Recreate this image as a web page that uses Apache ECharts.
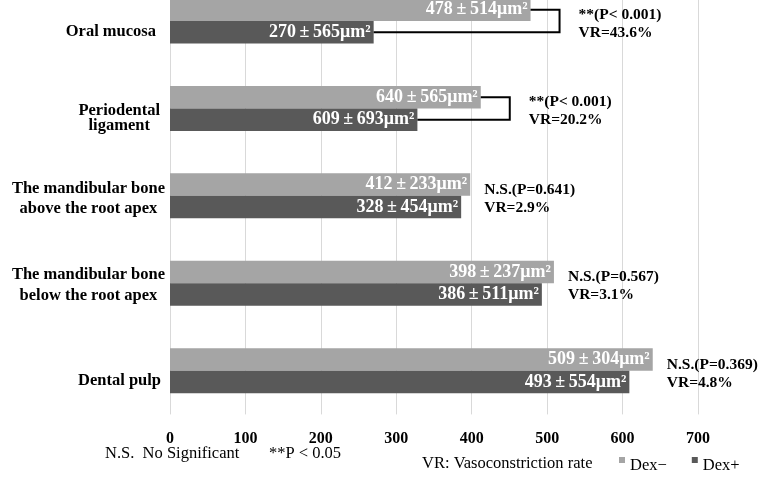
<!DOCTYPE html>
<html>
<head>
<meta charset="utf-8">
<script src="https://cdn.jsdelivr.net/npm/echarts@6/dist/echarts.min.js"></script>
<style>html,body{margin:0;padding:0;background:#fff;}#c{width:767px;height:479px;}</style>
</head>
<body>
<div id="c"></div>
<script>
const categories = ['Oral mucosa', 'Periodental\nligament', 'The mandibular bone\nabove the root apex', 'The mandibular bone\nbelow the root apex', 'Dental pulp'];
const dexMinus = [478, 412, 398, 509, 640];
const dexPlus = [270, 328, 386, 493, 609];
const labelMinus = ['478±514μm²', '640±565μm²', '412±233μm²', '398±237μm²', '509±304μm²'];
const labelPlus = ['270±565μm²', '609±693μm²', '328±454μm²', '386±511μm²', '493±554μm²'];
const pTexts = ['**(P< 0.001)', '**(P< 0.001)', 'N.S.(P=0.641)', 'N.S.(P=0.567)', 'N.S.(P=0.369)'];
const vrTexts = ['VR=43.6%', 'VR=20.2%', 'VR=2.9%', 'VR=3.1%', 'VR=4.8%'];
const bracketed = [true, true, false, false, false];
const seriesNames = ['Dex\u2212', 'Dex+'];
const noteTexts = ['N.S.  No Significant', '**P < 0.05', 'VR: Vasoconstriction rate'];

// label layout tweaks (style only)
const catShift = [22, 19, 6, 4, 20];
const catRightPad = [9, 5, 0, 0, 4];
const catLineHeight = [18, 15, 20.5, 21, 18];

const SERIF = '"Liberation Serif", "Times New Roman", serif';
const fmtLabel = s => s.replace('±', '\u2009±\u2009');

const chart = echarts.init(document.getElementById('c'));
const yData = categories.map((c, i) => ({
  value: c,
  textStyle: { padding: [catShift[i], catRightPad[i], 0, 0], lineHeight: catLineHeight[i] }
}));

const option = {
  animation: false,
  backgroundColor: '#fff',
  grid: { left: 170, right: 69, top: -22.7, bottom: 64.6, outerBoundsMode: 'none', containLabel: false },
  xAxis: {
    type: 'value', min: 0, max: 700, interval: 100,
    axisLine: { show: false }, axisTick: { show: false },
    splitLine: { lineStyle: { color: '#d9d9d9', width: 1 } },
    axisLabel: { margin: 16, color: '#000', fontFamily: SERIF, fontWeight: 'bold', fontSize: 16 }
  },
  yAxis: {
    type: 'category', inverse: true, data: yData,
    axisLine: { show: false }, axisTick: { show: false },
    axisLabel: {
      margin: 5, color: '#000',
      formatter: v => v.split('\n').map(l => '{c|' + l + '}').join('\n'),
      rich: { c: { align: 'center', fontFamily: SERIF, fontWeight: 'bold', fontSize: 16.5, color: '#000' } }
    }
  },
  legend: {
    data: seriesNames, left: 619, top: 457, padding: 0,
    itemWidth: 6, itemHeight: 6, itemGap: 25, icon: 'rect',
    formatter: n => '{t|' + n + '}',
    textStyle: {
      fontFamily: SERIF, fontSize: 16.5, color: '#000',
      rich: { t: { fontFamily: SERIF, fontSize: 16.5, color: '#000', padding: [12, 0, 0, 0] } }
    }
  },
  graphic: [
    { type: 'text', left: 105, top: 445, style: { text: noteTexts[0], font: '16.5px ' + SERIF, fill: '#000' } },
    { type: 'text', left: 269, top: 445, style: { text: noteTexts[1], font: '16.5px ' + SERIF, fill: '#000' } },
    { type: 'text', left: 422, top: 455, style: { text: noteTexts[2], font: '16.5px ' + SERIF, fill: '#000' } }
  ],
  series: [
    {
      name: seriesNames[0], type: 'bar', data: dexMinus, barWidth: 22.5, barGap: '0%',
      itemStyle: { color: '#a5a5a5' },
      label: {
        show: true, position: 'insideRight', distance: 3,
        formatter: p => fmtLabel(labelMinus[p.dataIndex]),
        color: '#fff', fontFamily: SERIF, fontWeight: 'bold', fontSize: 18
      }
    },
    {
      name: seriesNames[1], type: 'bar', data: dexPlus, barWidth: 22.5, barGap: '0%',
      itemStyle: { color: '#595959' },
      label: {
        show: true, position: 'insideRight', distance: 3,
        formatter: p => fmtLabel(labelPlus[p.dataIndex]),
        color: '#fff', fontFamily: SERIF, fontWeight: 'bold', fontSize: 18
      }
    },
    {
      type: 'custom', silent: true, z: 10,
      data: dexMinus.map((v, i) => [v, dexPlus[i], i]),
      encode: { x: [0, 1], y: 2 },
      renderItem: (params, api) => {
        const i = api.value(2);
        const pm = api.coord([api.value(0), i]);
        const pp = api.coord([api.value(1), i]);
        const c = pm[1];
        const half = 11.25;
        const children = [];
        let tx;
        if (bracketed[i]) {
          const xb = pm[0] + 29;
          children.push({
            type: 'polyline',
            shape: { points: [[pm[0], c - half], [xb, c - half], [xb, c + half], [pp[0], c + half]] },
            style: { stroke: '#000', lineWidth: 2, fill: null }
          });
          tx = xb + 19;
        } else {
          tx = pm[0] + 14;
        }
        const font = 'bold 15.5px ' + SERIF;
        children.push({ type: 'text', x: tx, y: c - 6, style: { text: pTexts[i], font, fill: '#000', verticalAlign: 'middle', align: 'left' } });
        children.push({ type: 'text', x: tx, y: c + 12, style: { text: vrTexts[i], font, fill: '#000', verticalAlign: 'middle', align: 'left' } });
        return { type: 'group', children };
      }
    }
  ]
};
chart.setOption(option);
</script>
</body>
</html>
